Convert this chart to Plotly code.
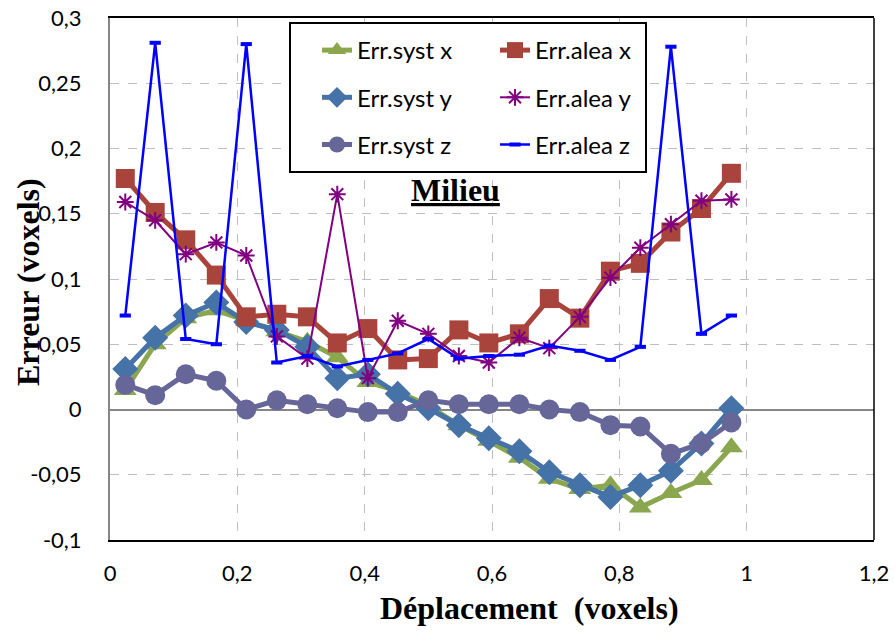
import plotly.graph_objects as go

# ---- data ----
deplacement = [0.024, 0.071, 0.119, 0.167, 0.214, 0.262, 0.310, 0.357, 0.405, 0.452, 0.500,
               0.548, 0.595, 0.643, 0.690, 0.738, 0.786, 0.833, 0.881, 0.929, 0.976]

err_syst_x = [0.015, 0.050, 0.070, 0.076, 0.068, 0.060, 0.052, 0.040, 0.021, 0.014, 0.003,
              -0.012, -0.024, -0.037, -0.053, -0.061, -0.058, -0.075, -0.064, -0.054, -0.029]
err_syst_y = [0.031, 0.055, 0.072, 0.082, 0.067, 0.061, 0.048, 0.024, 0.027, 0.012, 0.001,
              -0.012, -0.022, -0.032, -0.048, -0.058, -0.067, -0.058, -0.047, -0.026, 0.001]
err_syst_z = [0.019, 0.011, 0.027, 0.022, 0.000, 0.007, 0.004, 0.001, -0.002, -0.002, 0.007,
              0.004, 0.004, 0.004, 0.000, -0.002, -0.012, -0.013, -0.034, -0.026, -0.010]
err_alea_x = [0.177, 0.151, 0.130, 0.103, 0.071, 0.073, 0.071, 0.051, 0.062, 0.038, 0.039,
              0.061, 0.051, 0.058, 0.085, 0.070, 0.106, 0.112, 0.136, 0.154, 0.181]
err_alea_y = [0.159, 0.145, 0.119, 0.128, 0.118, 0.056, 0.039, 0.165, 0.024, 0.068, 0.058,
              0.041, 0.036, 0.055, 0.047, 0.071, 0.101, 0.124, 0.142, 0.160, 0.161]
err_alea_z = [0.072, 0.281, 0.054, 0.050, 0.280, 0.036, 0.041, 0.033, 0.038, 0.043, 0.054,
              0.039, 0.041, 0.042, 0.049, 0.045, 0.038, 0.048, 0.278, 0.058, 0.072]

x_tickvals = [0, 0.2, 0.4, 0.6, 0.8, 1.0, 1.2]
x_ticktext = ["0", "0,2", "0,4", "0,6", "0,8", "1", "1,2"]
y_tickvals = [-0.1, -0.05, 0, 0.05, 0.1, 0.15, 0.2, 0.25, 0.3]
y_ticktext = ["-0,1", "-0,05", "0", "0,05", "0,1", "0,15", "0,2", "0,25", "0,3"]

GREEN = "#8AA74F"
RED = "#A8443C"
BLUE_D = "#4572A7"
PURPLE_C = "#666699"
PURPLE = "#800080"
BLUE = "#0000FF"

fig = go.Figure()

def add(name, y, color, lw, symbol, size, legend, group, mline=None):
    marker = dict(symbol=symbol, size=size, color=color)
    if mline:
        marker["line"] = mline
    fig.add_trace(go.Scatter(
        x=deplacement, y=y, name=name, mode="lines+markers",
        line=dict(color=color, width=lw), marker=marker,
        legend=legend, legendgroup=group))

add("Err.syst x", err_syst_x, GREEN, 5, "triangle-up", 20, "legend", "g1")
add("Err.syst y", err_syst_y, BLUE_D, 5, "diamond", 20, "legend", "g2")
add("Err.syst z", err_syst_z, PURPLE_C, 5, "circle", 20, "legend", "g3")
add("Err.alea x", err_alea_x, RED, 5, "square", 19, "legend2", "g4")
add("Err.alea y", err_alea_y, PURPLE, 2, "asterisk-open", 14, "legend2", "g5",
    mline=dict(color=PURPLE, width=2))
add("Err.alea z", err_alea_z, BLUE, 2.5, "line-ew-open", 8, "legend2", "g6",
    mline=dict(color=BLUE, width=4))

tick_font = dict(family="Lato, Carlito, sans-serif", size=22, color="black")
leg_font = dict(family="Lato, Carlito, sans-serif", size=24, color="black")
title_font = dict(family="Liberation Serif, Times New Roman, serif", size=32, color="black")

W, H = 894, 632
L, R, T, B = 110, 20, 18, 92
PW, PH = W - L - R, H - T - B

def px(xp):
    return (xp - L) / PW

def py(yp):
    return (H - B - yp) / PH

fig.update_layout(
    width=W, height=H,
    margin=dict(l=L, r=R, t=T, b=B, autoexpand=False),
    paper_bgcolor="white", plot_bgcolor="white",
    xaxis=dict(range=[0, 1.2], tickvals=x_tickvals, ticktext=x_ticktext,
               showgrid=True, gridcolor="#BFBFBF", griddash="dash", gridwidth=1,
               zeroline=False, showline=True, linecolor="black", linewidth=1.5,
               mirror=True, ticks="outside", ticklen=13, tickcolor="rgba(0,0,0,0)",
               tickfont=tick_font, automargin=False),
    yaxis=dict(range=[-0.1, 0.3], tickvals=y_tickvals, ticktext=y_ticktext,
               showgrid=True, gridcolor="#BFBFBF", griddash="dash", gridwidth=1,
               zeroline=True, zerolinecolor="#868686", zerolinewidth=2,
               showline=True, linecolor="#868686", linewidth=2,
               ticks="outside", ticklen=22, tickcolor="rgba(0,0,0,0)",
               tickfont=tick_font, automargin=False),
    legend=dict(x=px(317), y=py(28), xanchor="left", yanchor="top",
                bgcolor="rgba(0,0,0,0)", font=leg_font, tracegroupgap=13,
                itemsizing="trace"),
    legend2=dict(x=px(495), y=py(28), xanchor="left", yanchor="top",
                 bgcolor="rgba(0,0,0,0)", font=leg_font, tracegroupgap=13,
                 itemsizing="trace"),
    showlegend=True,
)

# legend frame
fig.add_shape(type="rect", xref="paper", yref="paper",
              x0=px(290), x1=px(646), y0=py(172), y1=py(23),
              line=dict(color="black", width=2), fillcolor="white", layer="above")
# right border of plot area
fig.add_shape(type="line", xref="paper", yref="paper", x0=1, x1=1, y0=0, y1=1,
              line=dict(color="black", width=1.5))

fig.add_annotation(text="<b><u>Milieu</u></b>", x=px(455), y=py(190),
                   xanchor="center", yanchor="middle",
                   xref="paper", yref="paper", showarrow=False, font=title_font)
fig.add_annotation(text="<b>Déplacement  (voxels)</b>", x=px(529), y=py(608),
                   xanchor="center", yanchor="middle",
                   xref="paper", yref="paper", showarrow=False, font=title_font)
fig.add_annotation(text="<b>Erreur (voxels)</b>", x=px(28), y=py(282),
                   xanchor="center", yanchor="middle",
                   xref="paper", yref="paper", showarrow=False, textangle=-90,
                   font=title_font)

fig.write_html("out.html", config={"displayModeBar": False},
               post_script="document.body.style.margin='0';document.body.style.padding='0';")
